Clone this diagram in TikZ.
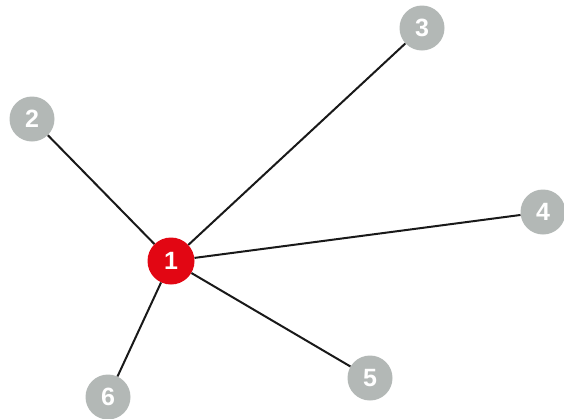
\documentclass[tikz,border=0pt]{standalone}
\usepackage{fontspec}
\setmainfont{Liberation Sans}
\definecolor{hubred}{HTML}{E20613}
\definecolor{leafgrey}{HTML}{B3B8B6}
\tikzset{digitfont/.style={font=\fontsize{25}{25}\selectfont\bfseries}}
\begin{document}
\begin{tikzpicture}[x=1pt,y=-1pt,
  hub/.style={circle,fill=hubred,minimum size=47pt,inner sep=0pt,text=white,digitfont},
  leaf/.style={circle,fill=leafgrey,minimum size=45pt,inner sep=0pt,text=white,digitfont},
  link/.style={line width=2pt,black!90}]
\useasboundingbox (0,0) rectangle (564,418);
\node[hub] (n1) at (171,261) {1};
\node[leaf] (n2) at (32,119) {2};
\node[leaf] (n3) at (422,28) {3};
\node[leaf] (n4) at (543,212) {4};
\node[leaf] (n5) at (370,378) {5};
\node[leaf] (n6) at (108,397) {6};
\draw[link] (n1) -- (n2);
\draw[link] (n1) -- (n3);
\draw[link] (n1) -- (n4);
\draw[link] (n1) -- (n5);
\draw[link] (n1) -- (n6);
\end{tikzpicture}
\end{document}
